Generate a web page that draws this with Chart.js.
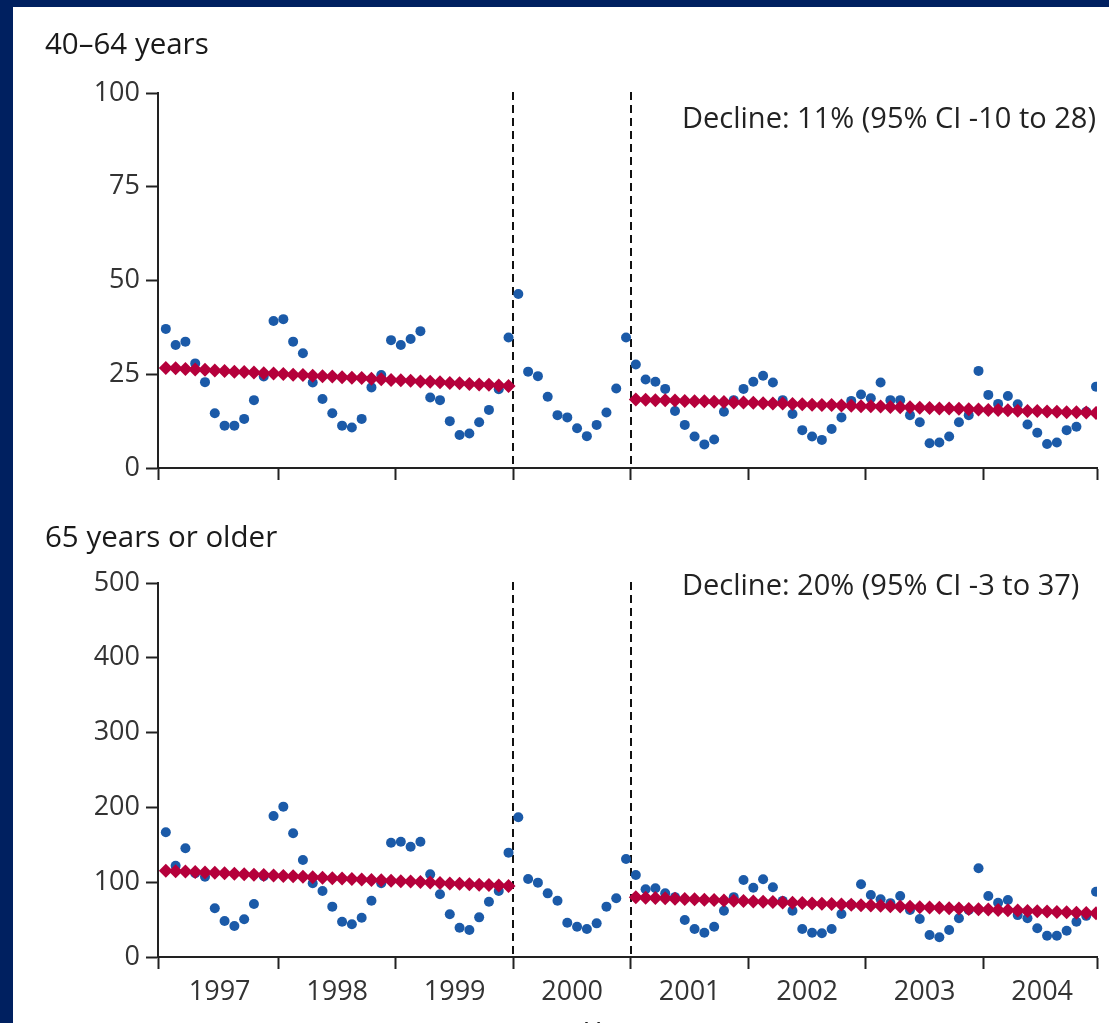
<!DOCTYPE html>
<html>
<head>
<meta charset="utf-8">
<script src="https://cdn.jsdelivr.net/npm/chart.js@4.4.1/dist/chart.umd.min.js"></script>
<style>
html,body{margin:0;padding:0;background:#fff;overflow:hidden;}
#frame{position:relative;width:1109px;height:1023px;overflow:hidden;background:#fff;}
.navyTop{position:absolute;left:0;top:0;width:1109px;height:7px;background:#002060;}
.navyLeft{position:absolute;left:0;top:0;width:13px;height:1023px;background:#002060;}
.box{position:absolute;left:0;width:1109px;}
.title{position:absolute;left:45px;font-family:"Open Sans";font-size:29.5px;line-height:30px;color:#1a1a1a;white-space:nowrap;}
.decl{position:absolute;left:682px;font-family:"Open Sans";font-size:29px;line-height:29px;color:#222;white-space:nowrap;}
.xtitle{position:absolute;left:585px;top:1018px;font-family:"Open Sans";font-size:27px;line-height:27px;color:#222;}
</style>
</head>
<body>
<div id="frame">
  <div class="box" style="top:0;height:500px;"><canvas id="c1" width="1109" height="500"></canvas></div>
  <div class="box" style="top:500px;height:523px;"><canvas id="c2" width="1109" height="523"></canvas></div>
  <div class="title" style="top:28px;">40–64 years</div>
  <div class="title" style="top:521px;">65 years or older</div>
  <div class="decl" style="top:102px;">Decline: 11% (95% CI -10 to 28)</div>
  <div class="decl" style="top:569px;">Decline: 20% (95% CI -3 to 37)</div>
  <div class="xtitle">Year</div>
  <div class="navyTop"></div>
  <div class="navyLeft"></div>
</div>
<script>
// ---------------- data ----------------
const yearLabels = ['1997','1998','1999','2000','2001','2002','2003','2004'];
const yTicksTop = [0, 25, 50, 75, 100];
const yTicksBottom = [0, 100, 200, 300, 400, 500];

// monthly rates, Jan 1997 - Dec 2004, 40-64 years
const rate4064 = [
  37.1, 32.8, 33.7, 27.9, 22.9, 14.6, 11.3, 11.3, 13.1, 18.1, 24.4, 39.2,
  39.7, 33.7, 30.6, 22.8, 18.4, 14.6, 11.3, 10.8, 13.1, 21.5, 24.8, 34.1,
  32.8, 34.4, 36.5, 18.8, 18.1, 12.5,  8.8,  9.2, 12.2, 15.5, 21.0, 34.8,
  46.4, 25.7, 24.5, 19.0, 14.1, 13.5, 10.6,  8.5, 11.5, 14.8, 21.2, 34.8,
  27.6, 23.6, 23.0, 21.1, 15.2, 11.5,  8.4,  6.3,  7.6, 15.0, 18.1, 21.1,
  23.0, 24.6, 22.8, 18.1, 14.4, 10.1,  8.4,  7.5, 10.4, 13.5, 17.9, 19.6,
  18.6, 22.8, 18.1, 18.1, 14.1, 12.2,  6.6,  6.8,  8.4, 12.2, 14.1, 25.9,
  19.5, 17.1, 19.2, 17.0, 11.6,  9.4,  6.4,  6.8, 10.1, 11.0, 15.0, 21.7
];
// fitted trend, 1997-1999 (36 months) and 2001-2004 (48 months), 40-64 years
const trendPre4064 = [
  26.7, 26.6, 26.4, 26.3, 26.2, 26.0, 25.9, 25.7, 25.6, 25.5,
  25.3, 25.2, 25.1, 24.9, 24.8, 24.6, 24.5, 24.4, 24.2, 24.1,
  24.0, 23.8, 23.7, 23.5, 23.4, 23.3, 23.1, 23.0, 22.9, 22.7,
  22.6, 22.4, 22.3, 22.2, 22.0, 21.9
];
const trendPost4064 = [
  18.3, 18.2, 18.1, 18.1, 18.0, 17.9, 17.8, 17.8, 17.7, 17.6,
  17.5, 17.5, 17.4, 17.3, 17.2, 17.2, 17.1, 17.0, 16.9, 16.8,
  16.8, 16.7, 16.6, 16.5, 16.5, 16.4, 16.3, 16.2, 16.2, 16.1,
  16.0, 15.9, 15.9, 15.8, 15.7, 15.6, 15.5, 15.5, 15.4, 15.3,
  15.2, 15.2, 15.1, 15.0, 14.9, 14.9, 14.8, 14.7
];

// monthly rates, 65 years or older
const rate65 = [
  166.7, 122.0, 145.3, 112.0, 107.4,  65.1,  48.1,  41.4,  50.4,  70.9, 108.0, 188.5,
  201.0, 165.4, 129.7,  98.5,  88.2,  67.3,  47.2,  43.7,  52.5,  75.3,  98.5, 152.8,
  154.1, 147.5, 154.1, 110.5,  83.8,  57.1,  39.2,  36.1,  53.0,  73.9,  88.2, 139.5,
  186.8, 104.3,  99.4,  85.1,  75.3,  45.9,  40.5,  37.4,  45.0,  67.3,  78.5, 131.0,
  109.6,  90.5,  91.8,  85.1,  80.0,  49.5,  37.4,  32.5,  40.5,  61.9,  80.0, 102.9,
   92.6, 103.9,  93.2,  75.0,  61.9,  37.4,  32.5,  31.7,  37.4,  57.5,  70.0,  97.2,
   82.9,  77.1,  72.0,  81.6,  62.8,  50.8,  29.4,  26.3,  36.1,  51.7,  63.0, 118.6,
   81.6,  72.6,  76.2,  56.0,  51.7,  38.4,  28.5,  28.5,  35.2,  47.2,  55.0,  87.3
];
const trendPre65 = [
  115.4, 114.8, 114.2, 113.6, 113.1, 112.5, 111.9, 111.3, 110.7, 110.1,
  109.5, 109.0, 108.4, 107.8, 107.2, 106.6, 106.0, 105.4, 104.9, 104.3,
  103.7, 103.1, 102.5, 101.9, 101.3, 100.8, 100.2,  99.6,  99.0,  98.4,
   97.8,  97.2,  96.7,  96.1,  95.5,  94.9
];
const trendPost65 = [
  79.8, 79.3, 78.9, 78.4, 78.0, 77.5, 77.1, 76.6, 76.2, 75.7,
  75.3, 74.8, 74.3, 73.9, 73.4, 73.0, 72.5, 72.1, 71.6, 71.2,
  70.7, 70.2, 69.8, 69.3, 68.9, 68.4, 68.0, 67.5, 67.1, 66.6,
  66.2, 65.7, 65.2, 64.8, 64.3, 63.9, 63.4, 63.0, 62.5, 62.1,
  61.6, 61.1, 60.7, 60.2, 59.8, 59.3, 58.9, 58.4
];

// ---------------- helpers ----------------
const BLUE = '#1b5aa8';
const RED = '#b5003b';
const AXIS = '#222';
const TXT = '#333';
const X_MIN = -0.8, X_MAX = 95.1;
const PRE_START = 0;           // Jan 1997
const POST_START = 48;         // Jan 2001
const INTERVENTION = [35.5, 47.5]; // year 2000 window

function pts(arr, start) { return arr.map((v, i) => ({x: start + i, y: v})); }

// interleaved x ticks: boundary, centre, boundary, ...
function xTickList() {
  const t = [];
  for (let k = 0; k <= yearLabels.length; k++) {
    const b = k === 0 ? X_MIN : (k === yearLabels.length ? X_MAX : k * 12 - 0.5);
    t.push({value: b});
    if (k < yearLabels.length) t.push({value: k * 12 + 5.5});
  }
  return t;
}

const dashPlugin = {
  id: 'dash',
  beforeDatasetsDraw(chart) {
    const {ctx, chartArea, scales} = chart;
    ctx.save();
    ctx.strokeStyle = '#111';
    ctx.lineWidth = 2;
    ctx.setLineDash([8, 5]);
    INTERVENTION.forEach(v => {
      const px = Math.round(scales.x.getPixelForValue(v));
      ctx.beginPath();
      ctx.moveTo(px, chartArea.top - 1);
      ctx.lineTo(px, chartArea.bottom);
      ctx.stroke();
    });
    ctx.restore();
  }
};

function makeChart(id, rate, pre, post, yTicks, showYears, padTop, xHeight) {
  const yMax = yTicks[yTicks.length - 1];
  return new Chart(document.getElementById(id), {
    type: 'scatter',
    data: {
      datasets: [
        {label: 'trend pre', data: pts(pre, PRE_START), pointStyle: 'rectRot', pointRadius: 7,
         backgroundColor: RED, borderWidth: 0, order: 0},
        {label: 'trend post', data: pts(post, POST_START), pointStyle: 'rectRot', pointRadius: 7,
         backgroundColor: RED, borderWidth: 0, order: 0},
        {label: 'rate', data: pts(rate, 0), pointStyle: 'circle', pointRadius: 5,
         backgroundColor: BLUE, borderWidth: 0, order: 1}
      ]
    },
    options: {
      responsive: false,
      animation: false,
      events: [],
      layout: {padding: {left: 0, right: 12, top: padTop, bottom: 0}},
      plugins: {legend: {display: false}, tooltip: {enabled: false}},
      scales: {
        x: {
          type: 'linear', min: X_MIN, max: X_MAX,
          afterBuildTicks: s => { s.ticks = xTickList(); },
          afterFit: s => { s.height = xHeight; },
          ticks: {
            autoSkip: false, maxRotation: 0, padding: 7,
            color: TXT, font: {family: 'Open Sans', size: 27},
            callback: (v, i) => (showYears && i % 2 === 1) ? yearLabels[(i - 1) / 2] : ''
          },
          grid: {
            display: true, drawOnChartArea: false, drawTicks: true, tickLength: 12, tickWidth: 2,
            tickColor: c => (c.index % 2 === 0) ? AXIS : 'rgba(0,0,0,0)'
          },
          border: {display: true, color: AXIS, width: 2}
        },
        y: {
          min: 0, max: yMax,
          afterBuildTicks: s => { s.ticks = yTicks.map(v => ({value: v})); },
          afterFit: s => { s.width = 158; },
          ticks: {padding: 6, color: TXT, font: {family: 'Open Sans', size: 27}},
          grid: {display: true, drawOnChartArea: false, drawTicks: true, tickLength: 12, tickWidth: 2, tickColor: AXIS},
          border: {display: true, color: AXIS, width: 2}
        }
      }
    },
    plugins: [dashPlugin]
  });
}

makeChart('c1', rate4064, trendPre4064, trendPost4064, yTicksTop, false, 93, 32);
makeChart('c2', rate65, trendPre65, trendPost65, yTicksBottom, true, 83, 66);
</script>
</body>
</html>
